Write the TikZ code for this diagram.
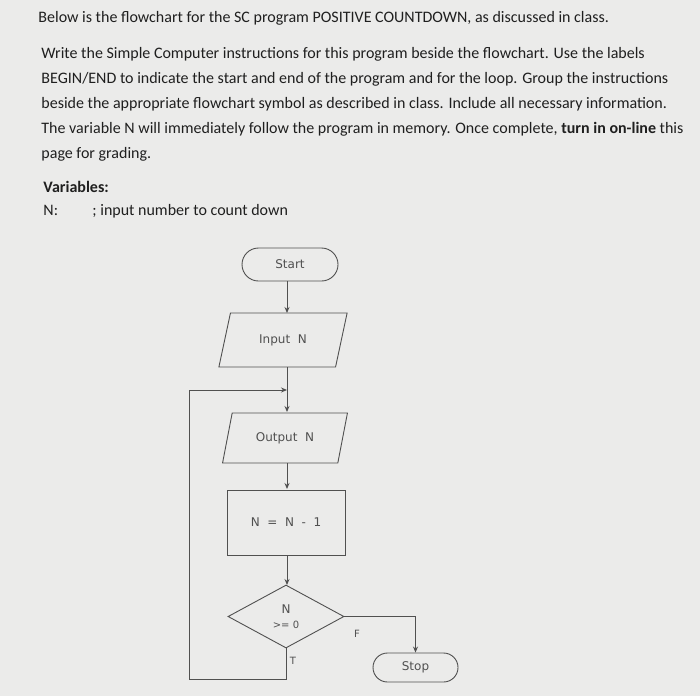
\documentclass[tikz,border=0pt]{standalone}
\usepackage{fontspec}
\setmainfont{Carlito}
\newfontfamily\chartfont{DejaVu Sans}
\usetikzlibrary{positioning,shapes.geometric,shapes.misc,arrows.meta}
\definecolor{paper}{HTML}{EBEBEA}
\definecolor{ink}{HTML}{1F1F1F}
\definecolor{chart}{HTML}{505050}

\begin{document}
\begin{tikzpicture}[x=1pt,y=-1pt,>={Stealth[length=6pt,width=5pt]},line width=0.9pt]
\tikzset{txt/.style = {anchor=base west,inner sep=0pt,text=ink,
                       font=\fontsize{16}{25}\selectfont},
         box/.style = {draw=chart,text=chart,inner sep=0pt,
                       font=\chartfont\fontsize{12}{16}\selectfont},
         term/.style = {box,rounded rectangle},
         io/.style = {box,trapezium,trapezium left angle=65,
                      trapezium right angle=115,trapezium stretches=true},
         proc/.style = {box,rectangle},
         test/.style = {box,diamond,align=center},
         flow/.style = {->,draw=chart}}
\fill[paper] (0,0) rectangle (700,696);
\useasboundingbox (0,0) rectangle (700,696);

% task text
\node[txt] (intro) at (38,22) {Below is the flowchart for the SC program POSITIVE COUNTDOWN, as discussed in class.};
\node[txt,align=left] (task) at (41,158) {Write the Simple Computer instructions for this program beside the flowchart. Use the labels\\
BEGIN/END to indicate the start and end of the program and for the loop. Group the instructions\\
beside the appropriate flowchart symbol as described in class. Include all necessary information.\\
The variable N will immediately follow the program in memory. Once complete, \textbf{turn in on-line} this\\
page for grading.};
\node[txt] (vars) at (43,192) {\textbf{Variables:}};
\node[txt] (nvar) at (43,215) {N:};
\node[txt] (ncom) at (92,215) {; input number to count down};

% flowchart
\node[term,minimum width=96,minimum height=33] (start) at (290,264.5) {Start};
\node[io,minimum width=129,minimum height=54] (in) at (283,340) {Input\ \ N};
\node[io,minimum width=125,minimum height=50] (out) at (285,438) {Output\ \ N};
\node[proc,minimum width=118,minimum height=65] (dec) at (286,522.5) {N\ \ =\ \ N\ \ -\ \ 1};
\node[test,minimum width=116,minimum height=63] (cond) at (286,616.5) {N\\[-1pt]\fontsize{10}{11}\selectfont >= 0};
\node[term,minimum width=85,minimum height=29] (stop) at (415.5,667.5) {Stop};
\node[text=chart,font=\chartfont\fontsize{10}{11}\selectfont] (lblF) at (357,634) {F};
\node[text=chart,font=\chartfont\fontsize{10}{11}\selectfont] (lblT) at (293,661) {T};
\coordinate (back) at (189,679);
\coordinate (join) at (287,390);

\draw[flow] (287,281) -- (287,313);
\draw[flow] (in.south -| join) -- (287,412);
\draw[flow] (out.south -| join) -- (287,489);
\draw[flow] (dec.south -| join) -- (287,585);
\draw[flow] (cond.east) -| (stop.north);
\draw[flow] (cond.south) |- (back) |- (join);
\end{tikzpicture}
\end{document}
